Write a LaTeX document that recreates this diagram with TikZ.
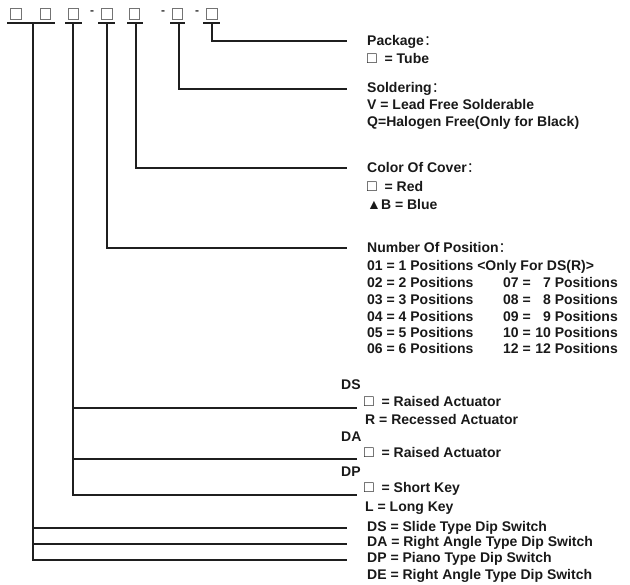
\documentclass[tikz,border=0pt]{standalone}
\usepackage{fontspec}
\setmainfont{Liberation Sans}
\newfontfamily\cjk{Noto Sans CJK SC}
\newcommand{\fwc}{{\mdseries\cjk ：}}
\newcommand{\sq}{{\fontsize{16}{16}\selectfont □}}
\begin{document}
\begin{tikzpicture}[x=1pt,y=-1pt,
  ln/.style={line width=1.3pt,draw=black!88},
  topbox/.style={draw=black!55,line width=0.8pt,minimum width=10.5pt,minimum height=11pt,inner sep=0pt},
  lbl/.style={anchor=west,inner sep=0pt,text height=10pt,text depth=1pt,font=\fontsize{14}{16}\selectfont\bfseries,text=black!90},
  dashlbl/.style={inner sep=0pt,font=\fontsize{12}{14}\selectfont\bfseries,text=black!80}]
\useasboundingbox (0,0) rectangle (630,585);
% top code boxes
\node[topbox] (b1) at (16,14) {};
\node[topbox] (b2) at (45.5,14) {};
\node[topbox] (b3) at (73.5,14) {};
\node[dashlbl] (d1) at (92,13) {-};
\node[topbox] (b4) at (107,14) {};
\node[topbox] (b5) at (134.5,14) {};
\node[dashlbl] (d2) at (163,13) {-};
\node[topbox] (b6) at (177.5,14) {};
\node[dashlbl] (d3) at (197,13) {-};
\node[topbox] (b7) at (212,14) {};
% underlines
\draw[ln] (7,23) -- (55,23);
\draw[ln] (65,23) -- (82,23);
\draw[ln] (98,23) -- (115,23);
\draw[ln] (127,23) -- (143,23);
\draw[ln] (170,23) -- (185,23);
\draw[ln] (203,23) -- (220,23);
\coordinate (u1) at (33,23);
\coordinate (u2) at (73,23);
\coordinate (u3) at (107,23);
\coordinate (u4) at (136,23);
\coordinate (u5) at (179,23);
\coordinate (u6) at (212,23);
% line ends
\coordinate (e6) at (347,41);
\coordinate (e5) at (347,89);
\coordinate (e4) at (347,168);
\coordinate (e3) at (347,248);
\coordinate (e2a) at (357,408);
\coordinate (e2b) at (357,459);
\coordinate (e2c) at (357,495);
\coordinate (e1a) at (347,528);
\coordinate (e1b) at (347,544);
\coordinate (e1c) at (347,560);
% connectors
\draw[ln] (u6) |- (e6);
\draw[ln] (u5) |- (e5);
\draw[ln] (u4) |- (e4);
\draw[ln] (u3) |- (e3);
\draw[ln] (u2) |- (e2c);
\draw[ln] (u2 |- e2a) -- (e2a);
\draw[ln] (u2 |- e2b) -- (e2b);
\draw[ln] (u1) |- (e1c);
\draw[ln] (u1 |- e1a) -- (e1a);
\draw[ln] (u1 |- e1b) -- (e1b);
% labels: package
\node[lbl] (pk) at (367,41) {Package\fwc};
\node[lbl] (pk1) at (367,59) {\sq\ \ = Tube};
\node[lbl] (so) at (367,88) {Soldering\fwc};
\node[lbl] (so1) at (367,105) {V = Lead Free Solderable};
\node[lbl] (so2) at (367,122) {Q=Halogen Free(Only for Black)};
\node[lbl] (co) at (367,168) {Color Of Cover\fwc};
\node[lbl] (co1) at (367,187) {\sq\ \ = Red};
\node[lbl] (co2) at (367,205) {▲B = Blue};
\node[lbl] (np) at (367,248) {Number Of Position\fwc};
\node[lbl] (n01) at (367,266) {01 = 1 Positions <Only For DS(R)>};
\node[lbl] (n02) at (367,283) {02 = 2 Positions};
\node[lbl] (n03) at (367,300) {03 = 3 Positions};
\node[lbl] (n04) at (367,317) {04 = 4 Positions};
\node[lbl] (n05) at (367,333) {05 = 5 Positions};
\node[lbl] (n06) at (367,349) {06 = 6 Positions};
\node[lbl] (n07) at (503,283) {07 =};
\node[lbl] (n08) at (503,300) {08 =};
\node[lbl] (n09) at (503,317) {09 =};
\node[lbl] (n10) at (503,333) {10 =};
\node[lbl] (n12) at (503,349) {12 =};
\node[lbl,anchor=east] (p07) at (618,283) {7 Positions};
\node[lbl,anchor=east] (p08) at (618,300) {8 Positions};
\node[lbl,anchor=east] (p09) at (618,317) {9 Positions};
\node[lbl,anchor=east] (p10) at (618,333) {10 Positions};
\node[lbl,anchor=east] (p12) at (618,349) {12 Positions};
% actuator section
\node[lbl] (ds) at (341,385) {DS};
\node[lbl] (ds1) at (364,402) {\sq\ \ = Raised Actuator};
\node[lbl] (ds2) at (365,420) {R = Recessed Actuator};
\node[lbl] (da) at (341,437) {DA};
\node[lbl] (da1) at (364,453) {\sq\ \ = Raised Actuator};
\node[lbl] (dp) at (341,472) {DP};
\node[lbl] (dp1) at (364,488) {\sq\ \ = Short Key};
\node[lbl] (dp2) at (365,507) {L = Long Key};
% type section
\node[lbl] (t1) at (367,527) {DS = Slide Type Dip Switch};
\node[lbl] (t2) at (367,542) {DA = Right Angle Type Dip Switch};
\node[lbl] (t3) at (367,558) {DP = Piano Type Dip Switch};
\node[lbl] (t4) at (367,575) {DE = Right Angle Type Dip Switch};
\end{tikzpicture}
\end{document}
